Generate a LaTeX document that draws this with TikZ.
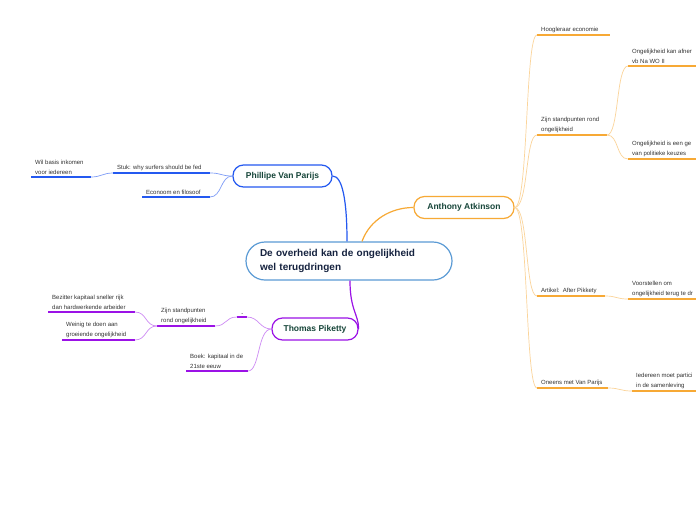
\documentclass[tikz,border=0pt]{standalone}
\usepackage{fontspec}
\setmainfont{Liberation Sans}
\usetikzlibrary{calc}
\definecolor{blueM}{HTML}{2459F0}
\definecolor{blueL}{HTML}{7F9DF7}
\definecolor{orangeM}{HTML}{F7A935}
\definecolor{orangeL}{HTML}{FBD49A}
\definecolor{purpleM}{HTML}{9B12E6}
\definecolor{purpleL}{HTML}{CE8CF4}
\definecolor{centralB}{HTML}{5B9BD5}
\definecolor{navy}{HTML}{15223F}
\definecolor{dgreen}{HTML}{17463A}
\definecolor{leaftext}{HTML}{333333}
\begin{document}
\begin{tikzpicture}[x=1pt,y=-1pt,
  main/.style={draw=centralB,line width=1.2pt,rounded corners=19pt,fill=white,
    minimum width=206pt,minimum height=38pt,text width=178pt,inner xsep=14pt,
    align=left,font=\bfseries\fontsize{10}{14}\selectfont,text=navy},
  topic/.style={rounded corners=10.5pt,line width=1.2pt,minimum height=22pt,fill=white,
    font=\bfseries\fontsize{8.5}{10}\selectfont,text=dgreen},
  leaf/.style={anchor=south west,inner xsep=4pt,inner ysep=2.5pt,align=left,
    font=\fontsize{6}{9.5}\selectfont,text=leaftext},
  ulB/.style={draw=blueM,line width=1.6pt},
  ulO/.style={draw=orangeM,line width=1.6pt},
  ulP/.style={draw=purpleM,line width=1.6pt},
  lcB/.style={draw=blueL,line width=0.7pt},
  lcO/.style={draw=orangeL,line width=0.7pt},
  lcP/.style={draw=purpleL,line width=0.7pt}]
\clip (0,0) rectangle (696,520);
\fill[white] (0,0) rectangle (696,520);

% central and main topics
\node[main] (c) at (349,261) {De overheid kan de ongelijkheid\\wel terugdringen};
\node[topic,draw=blueM,minimum width=99pt] (p) at (282.5,176) {Phillipe Van Parijs};
\node[topic,draw=orangeM,minimum width=100pt] (a) at (464,207.5) {Anthony Atkinson};
\node[topic,draw=purpleM,minimum width=86pt] (t) at (315,329) {Thomas Piketty};

\draw[blueM,line width=1.2pt] ($(c.north)+(-2,0)$) .. controls +(0,-40) and +(10,0) .. (p.east);
\draw[orangeM,line width=1.2pt] ($(c.north)+(13,0)$) .. controls +(8,-22) and +(-22,0) .. (a.west);
\draw[purpleM,line width=1.2pt] ($(c.south)+(1,0)$) .. controls +(0,30) and +(0,-15) .. (t.east);

% Phillipe Van Parijs branch
\node[leaf] (stuk) at (113,173) {Stuk: why surfers should be fed};
\draw[ulB] (stuk.south west) -- ++(97,0) coordinate (stuk-e);
\node[leaf] (econ) at (142,197) {Econoom en filosoof};
\draw[ulB] (econ.south west) -- ++(68,0) coordinate (econ-e);
\node[leaf] (wil) at (31,177) {Wil basis inkomen\\voor iedereen};
\draw[ulB] (wil.south west) -- ++(60,0) coordinate (wil-e);
\draw[lcB] (p.west) .. controls +(-12,0) and +(12,0) .. (stuk-e);
\draw[lcB] (p.west) .. controls +(-12,0) and +(12,0) .. (econ-e);
\draw[lcB] (stuk.south west) .. controls +(-10,0) and +(10,0) .. (wil-e);

% Anthony Atkinson branch
\node[leaf] (hoog) at (537,35) {Hoogleraar economie};
\draw[ulO] (hoog.south west) -- ++(73,0) coordinate (hoog-e);
\node[leaf] (zijnA) at (537,135) {Zijn standpunten rond\\ongelijkheid};
\draw[ulO] (zijnA.south west) -- ++(70,0) coordinate (zijnA-e);
\node[leaf] (art) at (537,296) {Artikel:\ \ After Pikkety};
\draw[ulO] (art.south west) -- ++(68,0) coordinate (art-e);
\node[leaf] (oneens) at (537,388) {Oneens met Van Parijs};
\draw[ulO] (oneens.south west) -- ++(71,0) coordinate (oneens-e);
\node[leaf] (ong1) at (628,66) {Ongelijkheid kan afner\\vb Na WO II};
\draw[ulO] (ong1.south west) -- ++(80,0);
\node[leaf] (ong2) at (628,159) {Ongelijkheid is een ge\\van politieke keuzes};
\draw[ulO] (ong2.south west) -- ++(80,0);
\node[leaf] (voor) at (628,299) {Voorstellen om\\ongelijkheid terug te dr};
\draw[ulO] (voor.south west) -- ++(80,0);
\node[leaf] (ieder) at (632,391) {Iedereen moet partici\\in de samenleving};
\draw[ulO] (ieder.south west) -- ++(80,0);
\foreach \n in {hoog,zijnA,art,oneens}
  \draw[lcO] (a.east) .. controls +(14,0) and +(-12,0) .. (\n.south west);
\draw[lcO] (zijnA-e) .. controls +(12,0) and +(-12,0) .. (ong1.south west);
\draw[lcO] (zijnA-e) .. controls +(12,0) and +(-12,0) .. (ong2.south west);
\draw[lcO] (art-e) .. controls +(12,0) and +(-12,0) .. (voor.south west);
\draw[lcO] (oneens-e) .. controls +(12,0) and +(-12,0) .. (ieder.south west);

% Thomas Piketty branch
\node[leaf,font=\fontsize{8}{9.5}\selectfont] (dot) at (237,317) {.};
\draw[ulP] (dot.south west) -- ++(10,0) coordinate (dot-e);
\node[leaf] (boek) at (186,371) {Boek: kapitaal in de\\21ste eeuw};
\draw[ulP] (boek.south west) -- ++(62,0) coordinate (boek-e);
\node[leaf] (zijnT) at (157,326) {Zijn standpunten\\rond ongelijkheid};
\draw[ulP] (zijnT.south west) -- ++(58,0) coordinate (zijnT-e);
\node[leaf] (bez) at (48,312) {Bezitter kapitaal sneller rijk\\dan hardwerkende arbeider};
\draw[ulP] (bez.south west) -- ++(87,0) coordinate (bez-e);
\node[leaf] (wein) at (62,340) {Weinig te doen aan\\groeiende ongelijkheid};
\draw[ulP] (wein.south west) -- ++(73,0) coordinate (wein-e);
\draw[lcP] (t.west) .. controls +(-12,0) and +(12,0) .. (dot-e);
\draw[lcP] (t.west) .. controls +(-14,0) and +(12,0) .. (boek-e);
\draw[lcP] (dot.south west) .. controls +(-12,0) and +(12,0) .. (zijnT-e);
\draw[lcP] (zijnT.south west) .. controls +(-12,0) and +(12,0) .. (bez-e);
\draw[lcP] (zijnT.south west) .. controls +(-12,0) and +(12,0) .. (wein-e);
\end{tikzpicture}
\end{document}
